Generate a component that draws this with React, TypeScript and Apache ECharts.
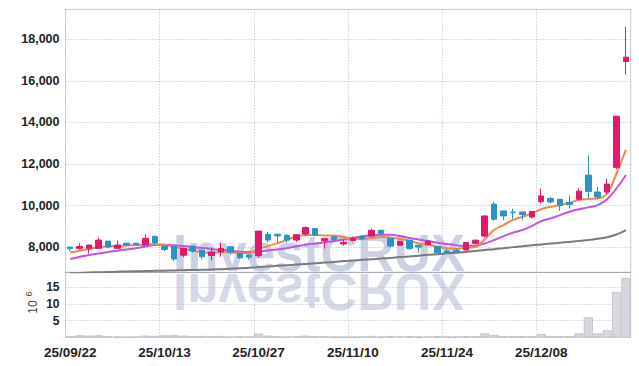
import React, { useEffect, useRef } from "react";
import * as echarts from "echarts";

const dates = [
  "25/09/22","25/09/23","25/09/24","25/09/25","25/09/26","25/09/29","25/09/30","25/10/01","25/10/02","25/10/10",
  "25/10/13","25/10/14","25/10/15","25/10/16","25/10/17","25/10/20","25/10/21","25/10/22","25/10/23","25/10/24",
  "25/10/27","25/10/28","25/10/29","25/10/30","25/10/31","25/11/03","25/11/04","25/11/05","25/11/06","25/11/07",
  "25/11/10","25/11/11","25/11/12","25/11/13","25/11/14","25/11/17","25/11/18","25/11/19","25/11/20","25/11/21",
  "25/11/24","25/11/25","25/11/26","25/11/27","25/11/28","25/12/01","25/12/02","25/12/03","25/12/04","25/12/05",
  "25/12/08","25/12/09","25/12/10","25/12/11","25/12/12","25/12/15","25/12/16","25/12/17","25/12/18","25/12/19",
];

const opens = [
  8010,7950,7940,7950,8300,7950,8200,8200,8110,8530,
  8060,8060,7620,8060,7870,7610,7790,8030,7710,7630,
  7600,8620,8630,8580,8350,8640,8900,8320,8500,8160,
  8330,8540,8540,8820,8430,8100,8340,8100,8140,8030,
  7820,7860,7870,8190,8540,10070,9750,9700,9700,9460,
  10200,10350,10310,10150,10310,11470,10660,10660,11840,16930,
];
const closes = [
  7940,8040,8110,8350,8010,8110,8110,8120,8430,8230,
  7900,7440,7950,7820,7550,7770,7940,7770,7500,7530,
  8780,8350,8550,8350,8610,8950,8580,8420,8380,8230,
  8430,8420,8820,8670,8060,8290,7940,8010,8300,7740,
  7740,7790,8230,8340,9510,9350,9510,9670,9580,9720,
  10470,10180,10020,10060,10700,10680,10420,11040,14300,17140,
];
const lows = [
  7820,7900,7700,7950,7940,7950,8060,8100,8110,8110,
  7820,7340,7530,7740,7420,7370,7550,7630,7460,7420,
  7500,8250,8250,8230,8260,8560,8520,7940,8320,8100,
  8280,8330,8540,8580,7980,8100,7870,7740,8140,7660,
  7710,7740,7870,8190,8470,9270,9300,9350,9300,9380,
  10120,10100,9750,9860,10260,10350,10310,10550,11760,16300,
];
const highs = [
  8020,8180,8110,8470,8300,8320,8220,8210,8630,8560,
  8060,8060,7950,8060,7870,7980,8230,8030,7710,7680,
  8790,8740,8630,8630,8610,9010,8900,8420,8580,8350,
  8520,8600,8900,8820,8430,8290,8340,8100,8300,8030,
  7940,7940,8230,8390,9510,10200,9750,9860,9700,9720,
  10830,10420,10310,10500,10830,12430,10900,11280,14300,18590,
];

const maShort = [
  7750,7840,7920,8000,8050,8070,8090,8110,8140,8160,
  8110,8030,7940,7850,7770,7740,7770,7760,7720,7730,
  7920,8060,8200,8350,8530,8590,8600,8570,8560,8480,
  8400,8400,8450,8500,8470,8400,8320,8180,8110,8040,
  7950,7930,7980,8020,8380,8830,9070,9310,9470,9630,
  9830,9950,10030,10140,10270,10320,10360,10600,11560,12700,
];
const maMid = [
  7440,7540,7630,7700,7780,7840,7900,7960,8040,8110,
  8130,8100,8060,8010,7970,7920,7870,7830,7790,7780,
  7800,7850,7900,7960,8050,8120,8180,8240,8300,8380,
  8450,8520,8580,8610,8600,8540,8450,8380,8300,8220,
  8160,8100,8050,8090,8190,8350,8540,8700,8830,9020,
  9260,9390,9550,9710,9830,9920,10030,10310,10840,11480,
];
const maLong = [
  6760,6770,6790,6800,6810,6830,6840,6850,6860,6870,
  6880,6890,6900,6910,6920,6930,6950,6970,6990,7020,
  7050,7080,7110,7140,7170,7200,7230,7270,7300,7340,
  7370,7400,7430,7460,7490,7530,7560,7600,7640,7670,
  7710,7740,7780,7820,7870,7910,7960,8010,8050,8100,
  8140,8180,8220,8260,8300,8350,8410,8480,8620,8830,
];
const volumes = [
  0.3,0.6,0.5,0.6,0.3,0.2,0.1,0.2,0.5,0.4,
  0.6,0.7,0.5,0.3,0.4,0.3,0.4,0.2,0.3,0.2,
  1.1,0.5,0.3,0.2,0.3,0.5,0.3,0.3,0.2,0.2,
  0.2,0.2,0.4,0.2,0.4,0.2,0.3,0.2,0.2,0.3,
  0.2,0.2,0.3,0.3,1.2,0.7,0.4,0.3,0.3,0.3,
  1.0,0.4,0.3,0.3,1.2,6.0,1.2,2.1,13.6,17.8,
];

const UP = "#e2186b";
const DOWN = "#2b93c6";
const FONT = "'Liberation Sans', Arial, sans-serif";

export default function App() {
  const ref = useRef<HTMLDivElement>(null);
  useEffect(() => {
    if (!ref.current) return;
    const chart = echarts.init(ref.current, undefined, { renderer: "svg" });
    const candleData = opens.map((o, i) => [o, closes[i], lows[i], highs[i]]);
    const dot = { color: "#b4b9d4", type: [1, 2] as number[], width: 1 };
    const splitLine = { show: true, interval: 9, lineStyle: dot };
    const hSplit = { show: true, lineStyle: dot };
    const wmFont = "bold 51px 'Liberation Sans', Arial, sans-serif";
    chart.setOption({
      animation: false,
      backgroundColor: "#ffffff",
      grid: [
        { left: 65.5, right: 8.3, top: 9.3, height: 263, show: true, borderColor: "#d4d4dc", borderWidth: 1 },
        { left: 65.5, right: 8.3, top: 272.3, height: 65, show: true, borderColor: "#d4d4dc", borderWidth: 1 },
      ],
      graphic: [
        {
          type: "text", x: 173, y: 253, z: 0, silent: true,
          style: { text: "InvestCRUX", font: wmFont, fill: "rgba(172,180,208,0.62)", align: "left", verticalAlign: "middle" },
        },
        {
          type: "text", x: 173, y: 291, scaleY: -1, z: 0, silent: true,
          style: { text: "InvestCRUX", font: wmFont, fill: "rgba(172,180,208,0.5)", align: "left", verticalAlign: "middle" },
        },
        {
          type: "text", x: 33, y: 307, rotation: Math.PI / 2, silent: true,
          style: { text: "10", font: `12px ${FONT}`, fill: "#444", align: "center", verticalAlign: "middle" },
        },
        {
          type: "text", x: 28.5, y: 294, rotation: Math.PI / 2, silent: true,
          style: { text: "6", font: `9px ${FONT}`, fill: "#444", align: "center", verticalAlign: "middle" },
        },
      ],
      xAxis: [
        {
          type: "category", gridIndex: 0, data: dates, boundaryGap: true,
          axisLine: { show: true, lineStyle: { color: "#a8a8b0" } },
          axisTick: { show: false }, axisLabel: { show: false },
          splitLine,
        },
        {
          type: "category", gridIndex: 1, data: dates, boundaryGap: true,
          axisLine: { show: false }, axisTick: { show: false },
          axisLabel: { interval: 9, color: "#222", fontFamily: FONT, fontWeight: "bold", fontSize: 13.5, margin: 8 },
          splitLine,
        },
      ],
      yAxis: [
        {
          type: "value", gridIndex: 0, min: 6800, max: 19440, minInterval: 2000, maxInterval: 2000,
          axisLine: { show: false }, axisTick: { show: false },
          axisLabel: {
            showMinLabel: false, showMaxLabel: false, color: "#222", fontFamily: FONT, fontWeight: "bold", fontSize: 12.5, margin: 6,
            formatter: (v: number) => v.toLocaleString("en-US"),
          },
          splitLine: hSplit,
        },
        {
          type: "value", gridIndex: 1, min: 0, max: 19.5, minInterval: 5, maxInterval: 5,
          axisLine: { show: false }, axisTick: { show: false },
          axisLabel: { showMinLabel: false, showMaxLabel: false, color: "#222", fontFamily: FONT, fontWeight: "bold", fontSize: 12, margin: 6 },
          splitLine: hSplit,
        },
      ],
      series: [
        {
          type: "bar", xAxisIndex: 1, yAxisIndex: 1, data: volumes, barCategoryGap: "4%",
          itemStyle: { color: "#d6d6dc", borderColor: "#bdbdc6", borderWidth: 0.8 },
        },
        {
          type: "line", xAxisIndex: 0, yAxisIndex: 0, data: maLong, showSymbol: false, smooth: true,
          lineStyle: { color: "#7a7a7e", width: 2 }, z: 3,
        },
        {
          type: "line", xAxisIndex: 0, yAxisIndex: 0, data: maMid, showSymbol: false, smooth: true,
          lineStyle: { color: "#c052e6", width: 2 }, z: 3,
        },
        {
          type: "line", xAxisIndex: 0, yAxisIndex: 0, data: maShort, showSymbol: false, smooth: true,
          lineStyle: { color: "#f0884c", width: 2 }, z: 4,
        },
        {
          type: "candlestick", xAxisIndex: 0, yAxisIndex: 0, data: candleData, barWidth: 6, z: 5,
          itemStyle: { color: UP, color0: DOWN, borderColor: UP, borderColor0: DOWN, borderWidth: 1 },
        },
      ],
    });
    return () => chart.dispose();
  }, []);
  return <div ref={ref} style={{ position: "fixed", left: 0, top: 0, width: 639, height: 366 }} />;
}
